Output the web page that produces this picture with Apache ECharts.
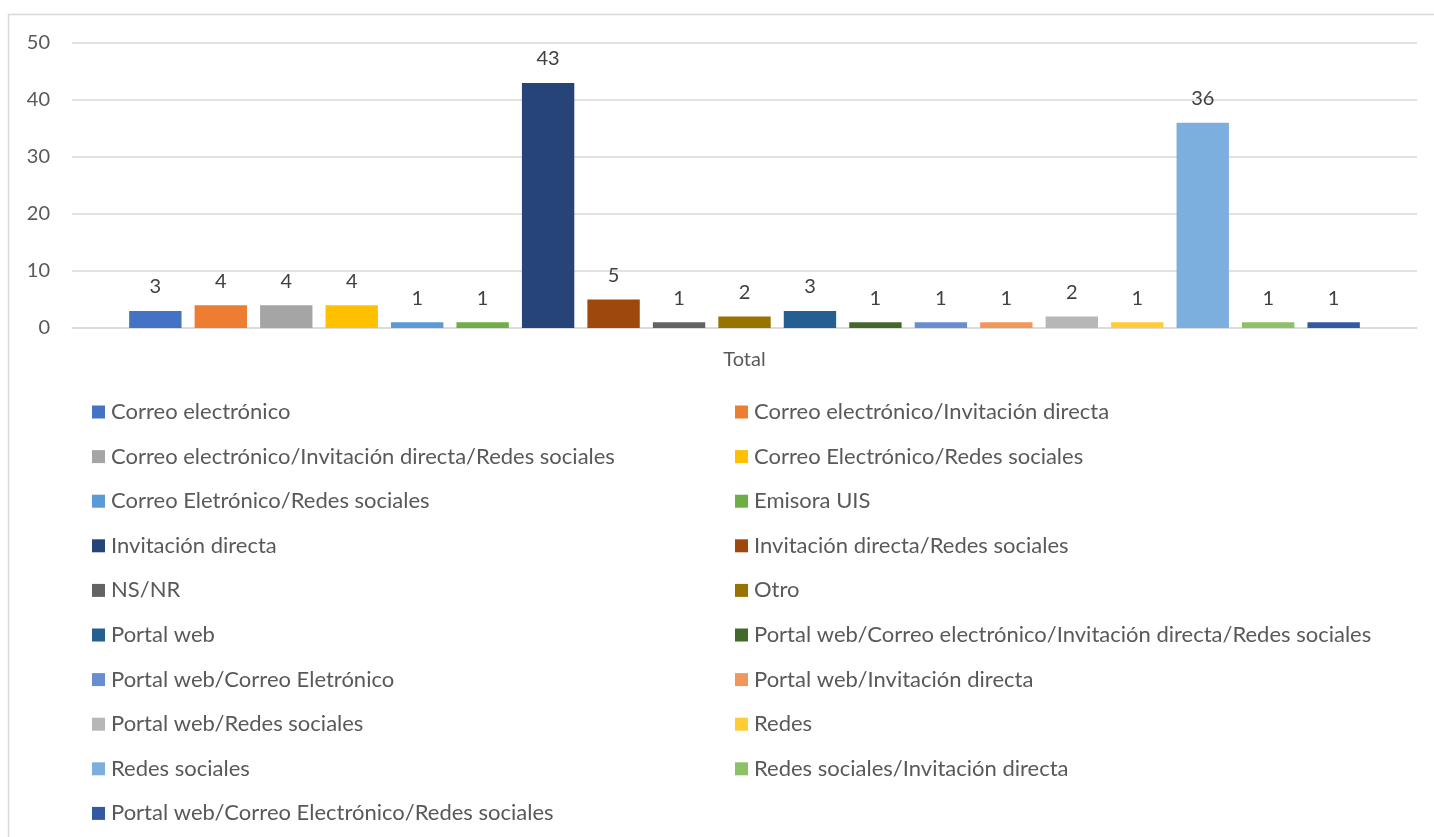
<!DOCTYPE html>
<html>
<head>
<meta charset="utf-8">
<script src="https://cdn.jsdelivr.net/npm/echarts@6/dist/echarts.min.js"></script>
<style>
html,body{margin:0;padding:0;background:#fff;}
#c{width:1434px;height:837px;}
</style>
</head>
<body>
<div id="c"></div>
<script>
const categories = ['Total'];
const seriesNames = [
  'Correo electrónico',
  'Correo electrónico/Invitación directa',
  'Correo electrónico/Invitación directa/Redes sociales',
  'Correo Electrónico/Redes sociales',
  'Correo Eletrónico/Redes sociales',
  'Emisora UIS',
  'Invitación directa',
  'Invitación directa/Redes sociales',
  'NS/NR',
  'Otro',
  'Portal web',
  'Portal web/Correo electrónico/Invitación directa/Redes sociales',
  'Portal web/Correo Eletrónico',
  'Portal web/Invitación directa',
  'Portal web/Redes sociales',
  'Redes',
  'Redes sociales',
  'Redes sociales/Invitación directa',
  'Portal web/Correo Electrónico/Redes sociales'
];
const seriesValues = [3, 4, 4, 4, 1, 1, 43, 5, 1, 2, 3, 1, 1, 1, 2, 1, 36, 1, 1];
const colors = ['#4472C4','#ED7D31','#A5A5A5','#FFC000','#5B9BD5','#70AD47','#264478','#9E480E','#636363','#997300','#255E91','#43682B','#698ED0','#F1975A','#B7B7B7','#FFCD33','#7CAFDD','#8CC168','#335AA1'];
const yTicks = {min: 0, max: 50, interval: 10};

const FONT = 'Lato';
const series = seriesNames.map((n, i) => ({
  name: n,
  type: 'bar',
  data: [seriesValues[i]],
  itemStyle: {color: colors[i]},
  barGap: '25%',
  barCategoryGap: '8.5%',
  label: {show: true, position: 'top', distance: 14, color: '#404040', fontSize: 20, fontFamily: FONT},
  emphasis: {disabled: true}
}));

const legendCommon = {
  orient: 'vertical',
  top: 401,
  height: 436,
  padding: 0,
  itemWidth: 13,
  itemHeight: 13,
  itemGap: 22.6,
  icon: 'rect',
  textStyle: {color: '#595959', fontSize: 22, fontFamily: FONT, lineHeight: 20, padding: [0,0,0,1]},
  selectedMode: false
};

const chart = echarts.init(document.getElementById('c'), null, {renderer: 'canvas'});
chart.setOption({
  animation: false,
  color: colors,
  graphic: [
    {type: 'polyline', silent: true, shape: {points: [[8.5, 845], [8.5, 14.5], [1440, 14.5]]}, style: {stroke: '#d9d9d9', lineWidth: 1.5, fill: null}}
  ],
  grid: {left: 72, right: 17, top: 43, height: 285, containLabel: false},
  xAxis: {
    type: 'category',
    data: categories,
    axisLine: {show: true, lineStyle: {color: '#d9d9d9', width: 1.5}},
    axisTick: {show: false},
    axisLabel: {color: '#595959', fontSize: 20, fontFamily: FONT, margin: 22}
  },
  yAxis: {
    type: 'value',
    min: yTicks.min, max: yTicks.max, interval: yTicks.interval,
    axisLine: {show: false},
    axisTick: {show: false},
    splitLine: {lineStyle: {color: '#d9d9d9', width: 1.5}},
    axisLabel: {color: '#595959', fontSize: 20, fontFamily: FONT, margin: 22}
  },
  legend: [
    Object.assign({}, legendCommon, {left: 92, data: seriesNames.filter((_, i) => i % 2 === 0)}),
    Object.assign({}, legendCommon, {left: 735, data: seriesNames.filter((_, i) => i % 2 === 1)})
  ],
  series: series
});
</script>
</body>
</html>
